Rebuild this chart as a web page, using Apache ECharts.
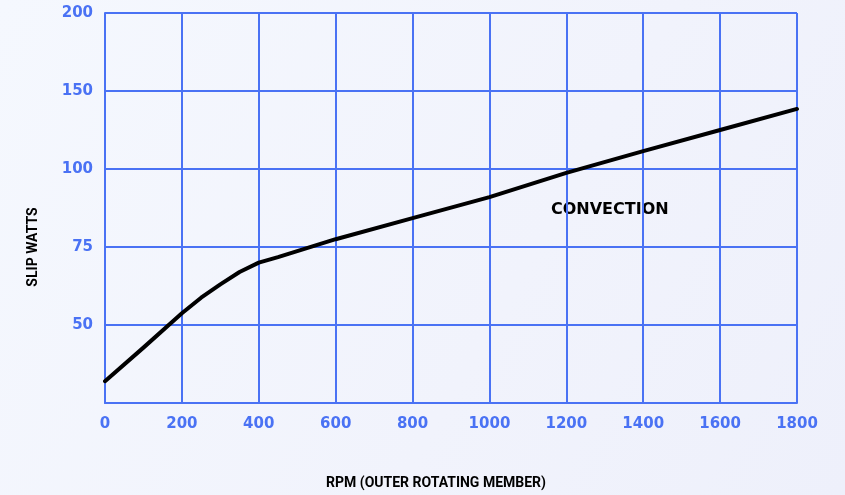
<!DOCTYPE html>
<html>
<head>
<meta charset="utf-8">
<script src="https://cdn.jsdelivr.net/npm/echarts@6/dist/echarts.min.js"></script>
<style>
  html, body { margin: 0; padding: 0; }
  #chart {
    width: 845px;
    height: 495px;
    background: linear-gradient(120deg, #f5f8fe 0%, #f1f3fc 60%, #eef0fb 100%);
  }
</style>
</head>
<body>
<div id="chart"></div>
<script>
// x: rotor speed, rpm
const rpm = [0, 100, 200, 250, 300, 350, 400, 450, 600, 800, 1000, 1200, 1400, 1600, 1800]
// y: position on the chart's slip-watts grid (0 = bottom line, each step = one labelled row)
const slipWattsPos = [0.28, 0.71, 1.15, 1.35, 1.52, 1.68, 1.80, 1.87, 2.10, 2.37, 2.64, 2.95, 3.23, 3.50, 3.77]
// labels printed on the y grid rows, bottom to top
const yTickLabels = ['', '50', '75', '100', '150', '200']

const BLUE = '#4a72f4'
const chart = echarts.init(document.getElementById('chart'))

chart.setOption({
  backgroundColor: 'transparent',
  animation: false,
  grid: { left: 105, right: 48, top: 13, bottom: 92 },
  xAxis: {
    type: 'value',
    min: 0,
    max: 1800,
    interval: 200,
    axisLine: { show: true, lineStyle: { color: BLUE, width: 2 } },
    axisTick: { show: false },
    splitLine: { show: true, lineStyle: { color: BLUE, width: 2 } },
    axisLabel: {
      color: BLUE,
      fontFamily: 'DejaVu Sans',
      fontWeight: 'bold',
      fontSize: 15,
      margin: 14,
      formatter: v => String(v)
    }
  },
  yAxis: {
    type: 'value',
    min: 0,
    max: 5,
    interval: 1,
    axisLine: { show: true, lineStyle: { color: BLUE, width: 2 } },
    axisTick: { show: false },
    splitLine: { show: true, lineStyle: { color: BLUE, width: 2 } },
    axisLabel: {
      color: BLUE,
      fontFamily: 'DejaVu Sans',
      fontWeight: 'bold',
      fontSize: 15,
      margin: 12,
      formatter: v => yTickLabels[Math.round(v)] || ''
    }
  },
  series: [
    {
      type: 'line',
      data: rpm.map((x, i) => [x, slipWattsPos[i]]),
      smooth: false,
      symbol: 'none',
      lineStyle: { color: '#000', width: 4, join: 'round', cap: 'round' }
    }
  ],
  graphic: [
    {
      type: 'text',
      left: 551,
      top: 202,
      style: {
        text: 'CONVECTION',
        fill: '#000',
        font: 'bold 16px "DejaVu Sans", sans-serif'
      }
    },
    {
      type: 'text',
      x: 33,
      y: 247,
      rotation: Math.PI / 2,
      style: {
        text: 'SLIP WATTS',
        fill: '#000',
        font: 'bold 14px Roboto, sans-serif',
        align: 'center',
        verticalAlign: 'middle'
      }
    },
    {
      type: 'text',
      x: 436,
      y: 483,
      style: {
        text: 'RPM (OUTER ROTATING MEMBER)',
        fill: '#000',
        font: 'bold 14px Roboto, sans-serif',
        align: 'center',
        verticalAlign: 'middle'
      }
    }
  ]
})
</script>
</body>
</html>
